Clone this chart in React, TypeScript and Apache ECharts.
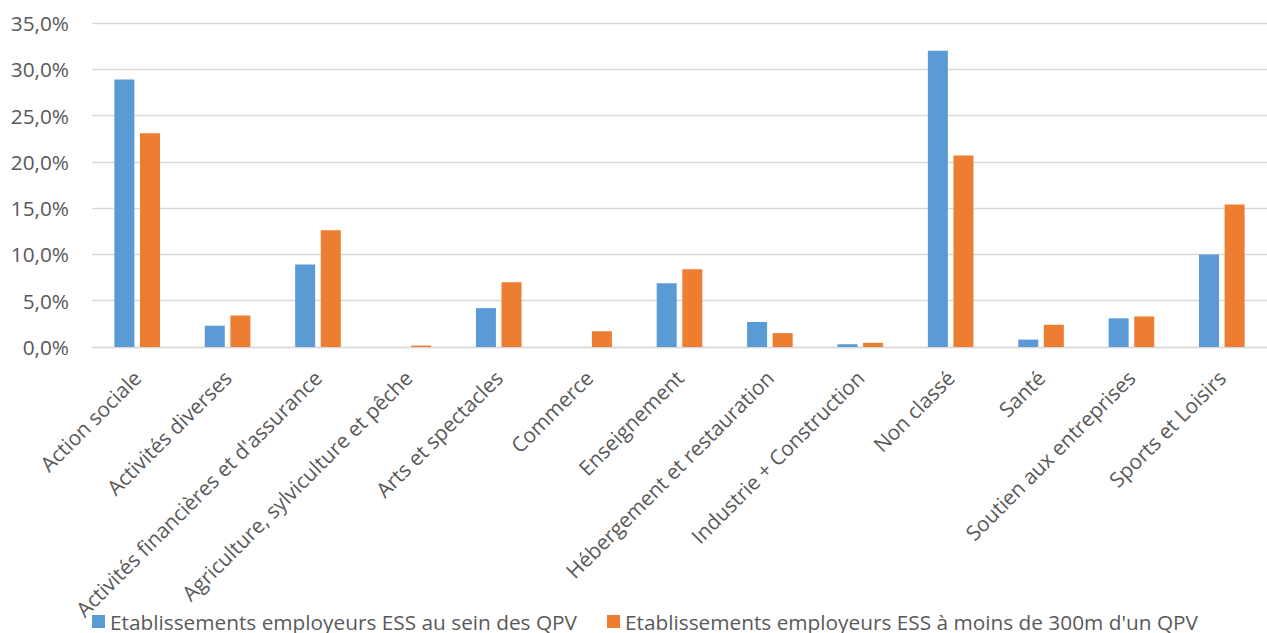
import React, { useEffect, useRef } from "react";
import * as echarts from "echarts";

const categories = [
  "Action sociale",
  "Activités diverses",
  "Activités financières et d'assurance",
  "Agriculture, sylviculture et pêche",
  "Arts et spectacles",
  "Commerce",
  "Enseignement",
  "Hébergement et restauration",
  "Industrie + Construction",
  "Non classé",
  "Santé",
  "Soutien aux entreprises",
  "Sports et Loisirs",
];

const seriesNames = [
  "Etablissements employeurs ESS au sein des QPV",
  "Etablissements employeurs ESS à moins de 300m d'un QPV",
];

const insideQPV = [28.9, 2.3, 8.9, 0, 4.2, 0, 6.9, 2.7, 0.3, 32.0, 0.8, 3.1, 10.0];
const near300m = [23.1, 3.4, 12.6, 0.15, 7.0, 1.7, 8.4, 1.5, 0.45, 20.7, 2.4, 3.3, 15.4];

const FONT = "'Open Sans', sans-serif";
const TEXT = "#595959";
const GRID = "#d9d9d9";
const FS = 20.8;

export default function App() {
  const ref = useRef<HTMLDivElement>(null);
  useEffect(() => {
    if (!ref.current) return;
    const chart = echarts.init(ref.current, null, { renderer: "svg" });
    chart.setOption({
      animation: false,
      backgroundColor: "#ffffff",
      textStyle: { fontFamily: FONT },
      grid: { left: 92, top: 23, width: 1185, height: 324, containLabel: false },
      legend: {
        left: 92,
        top: 611,
        padding: 0,
        icon: "rect",
        itemWidth: 13,
        itemHeight: 13,
        itemGap: 30,
        textStyle: { color: TEXT, fontSize: FS, fontFamily: FONT, lineHeight: 20 },
        data: seriesNames,
      },
      xAxis: {
        type: "category",
        data: categories,
        axisLine: { show: true, lineStyle: { color: GRID, width: 1.3 } },
        axisTick: { show: false },
        axisLabel: {
          interval: 0,
          rotate: 45,
          margin: 27,
          verticalAlign: "middle",
          color: TEXT,
          fontSize: FS,
          fontFamily: FONT,
        },
      },
      yAxis: {
        type: "value",
        min: 0,
        max: 35,
        interval: 5,
        axisLine: { show: false },
        axisTick: { show: false },
        splitLine: { lineStyle: { color: GRID, width: 1.3 } },
        axisLabel: {
          margin: 23,
          color: TEXT,
          fontSize: FS,
          fontFamily: FONT,
          formatter: (v: number) => v.toFixed(1).replace(".", ",") + "%",
        },
      },
      series: [
        {
          name: seriesNames[0],
          type: "bar",
          data: insideQPV,
          barWidth: 20,
          barGap: "28%",
          itemStyle: { color: "#5b9bd5" },
        },
        {
          name: seriesNames[1],
          type: "bar",
          data: near300m,
          barWidth: 20,
          barGap: "28%",
          itemStyle: { color: "#ed7d31" },
        },
      ],
    });
    return () => chart.dispose();
  }, []);
  return (
    <div
      ref={ref}
      style={{ position: "fixed", left: 0, top: 0, width: 1267, height: 633, overflow: "hidden" }}
    />
  );
}
